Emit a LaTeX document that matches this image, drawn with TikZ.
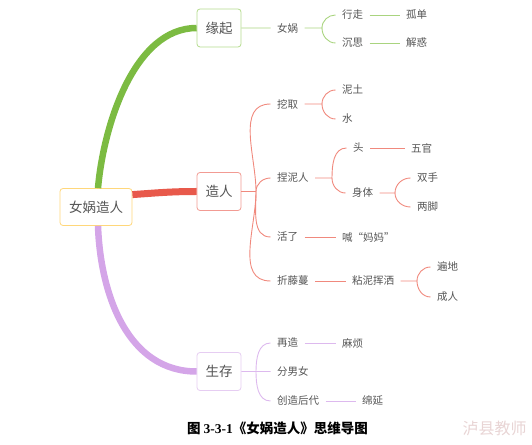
\documentclass[tikz,border=0pt]{standalone}
\usepackage{fontspec}
\setmainfont{Noto Sans CJK SC}
\newfontfamily\numfont{Liberation Serif}
\usepackage{xcolor}
\definecolor{txtc}{HTML}{555555}
\definecolor{rootc}{HTML}{FFD77A}
\definecolor{gthick}{HTML}{7CBB42}
\definecolor{gthin}{HTML}{A9D47F}
\definecolor{gbox}{HTML}{B5DC8F}
\definecolor{rthick}{HTML}{E8594B}
\definecolor{rthin}{HTML}{F0897D}
\definecolor{rbox}{HTML}{F29B93}
\definecolor{pthick}{HTML}{D4A5E8}
\definecolor{pthin}{HTML}{DDB9EE}
\definecolor{pbox}{HTML}{E6CDF2}
\definecolor{markc}{HTML}{E8D4D4}
\begin{document}
\begin{tikzpicture}[x=1pt,y=1pt,
  box/.style={draw,rounded corners=3pt,line width=0.8pt,fill=white,text=txtc,minimum width=44pt,minimum height=38pt,inner sep=0pt,font=\fontsize{13.5}{15}\selectfont},
  leaf/.style={anchor=west,xshift=-6.5pt,inner xsep=0pt,outer xsep=6.5pt,inner ysep=1pt,text=txtc,font=\fontsize{10.5}{12}\selectfont},
  thin/.style={line width=0.9pt}]
\useasboundingbox (0,0) rectangle (532,444);
% main boxes
\node[box,draw=rootc,minimum width=72pt,minimum height=37pt] (root) at (96,237) {女娲造人};
\node[box,draw=gbox] (yq) at (219,416) {缘起};
\node[box,draw=rbox] (zr) at (219,252.5) {造人};
\node[box,draw=pbox] (sc) at (219,72.5) {生存};
\draw[gthick,line width=6.5pt] ([xshift=2pt]root.north) to[out=85,in=180,looseness=0.85] (yq.west);
\draw[rthick,line width=7pt] ([yshift=-6.5pt]root.north east) to[out=4,in=180] (zr.west);
\draw[pthick,line width=6.5pt] ([xshift=2pt]root.south) to[out=-88,in=180] (sc.west);
% 缘起
\node[leaf] (nw) at (277,416) {女娲};
\node[leaf] (xz) at (342,429) {行走}; \node[leaf] (cs) at (342,401) {沉思};
\node[leaf] (gd) at (406,429) {孤单}; \node[leaf] (jh) at (406,401) {解惑};
\coordinate (f1) at (322,416);
\draw[gthin,thin] (yq.east) -- (nw.west) (nw.east) -- (f1) to[out=90,in=180] (xz.west) (f1) to[out=-90,in=180] (cs.west);
\draw[gthin,thin] (xz.east) -- (gd.west) (cs.east) -- (jh.west);
% 造人
\node[leaf] (wq) at (277,340) {挖取};
\node[leaf] (nt) at (342,354) {泥土}; \node[leaf] (sh) at (342,325) {水};
\node[leaf] (nn) at (277,266) {捏泥人};
\node[leaf] (to) at (353,296) {头}; \node[leaf] (wg) at (411,296) {五官};
\node[leaf] (st) at (352,251) {身体};
\node[leaf] (ss) at (417,266) {双手}; \node[leaf] (lj) at (417,237) {两脚};
\node[leaf] (hl) at (277,207) {活了}; \node[leaf] (hm) at (342,207) {喊“妈妈”};
\node[leaf] (zt) at (277,163) {折藤蔓}; \node[leaf] (nh) at (352,163) {粘泥挥洒};
\node[leaf] (bd) at (437,177) {遍地}; \node[leaf] (cr) at (437,147) {成人};
\coordinate (f2) at (256,252.5); \coordinate (f3) at (322,340);
\coordinate (f4) at (332,266); \coordinate (f5) at (395,251); \coordinate (f6) at (417,163);
\draw[rthin,thin] (zr.east) -- (f2);
\foreach \c/\a in {wq/90,nn/90,hl/-90,zt/-90}{\draw[rthin,thin] (f2) to[out=\a,in=180] (\c.west);}
\draw[rthin,thin] (wq.east) -- (f3) to[out=90,in=180] (nt.west) (f3) to[out=-90,in=180] (sh.west);
\draw[rthin,thin] (nn.east) -- (f4) to[out=90,in=180] (to.west) (f4) to[out=-90,in=180] (st.west);
\draw[rthin,thin] (to.east) -- (wg.west);
\draw[rthin,thin] (st.east) -- (f5) to[out=90,in=180] (ss.west) (f5) to[out=-90,in=180] (lj.west);
\draw[rthin,thin] (hl.east) -- (hm.west) (zt.east) -- (nh.west);
\draw[rthin,thin] (nh.east) -- (f6) to[out=90,in=180] (bd.west) (f6) to[out=-90,in=180] (cr.west);
% 生存
\node[leaf] (zz) at (277,101) {再造}; \node[leaf] (mf) at (342,101) {麻烦};
\node[leaf] (fn) at (277,72.5) {分男女};
\node[leaf] (cz) at (277,43) {创造后代}; \node[leaf] (my) at (362,43) {绵延};
\coordinate (f7) at (256,72.5);
\draw[pthin,thin] (sc.east) -- (fn.west) (f7) to[out=90,in=180] (zz.west) (f7) to[out=-90,in=180] (cz.west);
\draw[pthin,thin] (zz.east) -- (mf.west) (cz.east) -- (my.west);
% caption
\node[font=\fontsize{13.5}{15}\selectfont\bfseries] (cap) at (277.5,16) {图 {\numfont\bfseries 3-3-1}《女娲造人》思维导图};
\node[font=\fontsize{16}{18}\selectfont,text=markc] (mark) at (494.5,16) {泸县教师};
\end{tikzpicture}
\end{document}
